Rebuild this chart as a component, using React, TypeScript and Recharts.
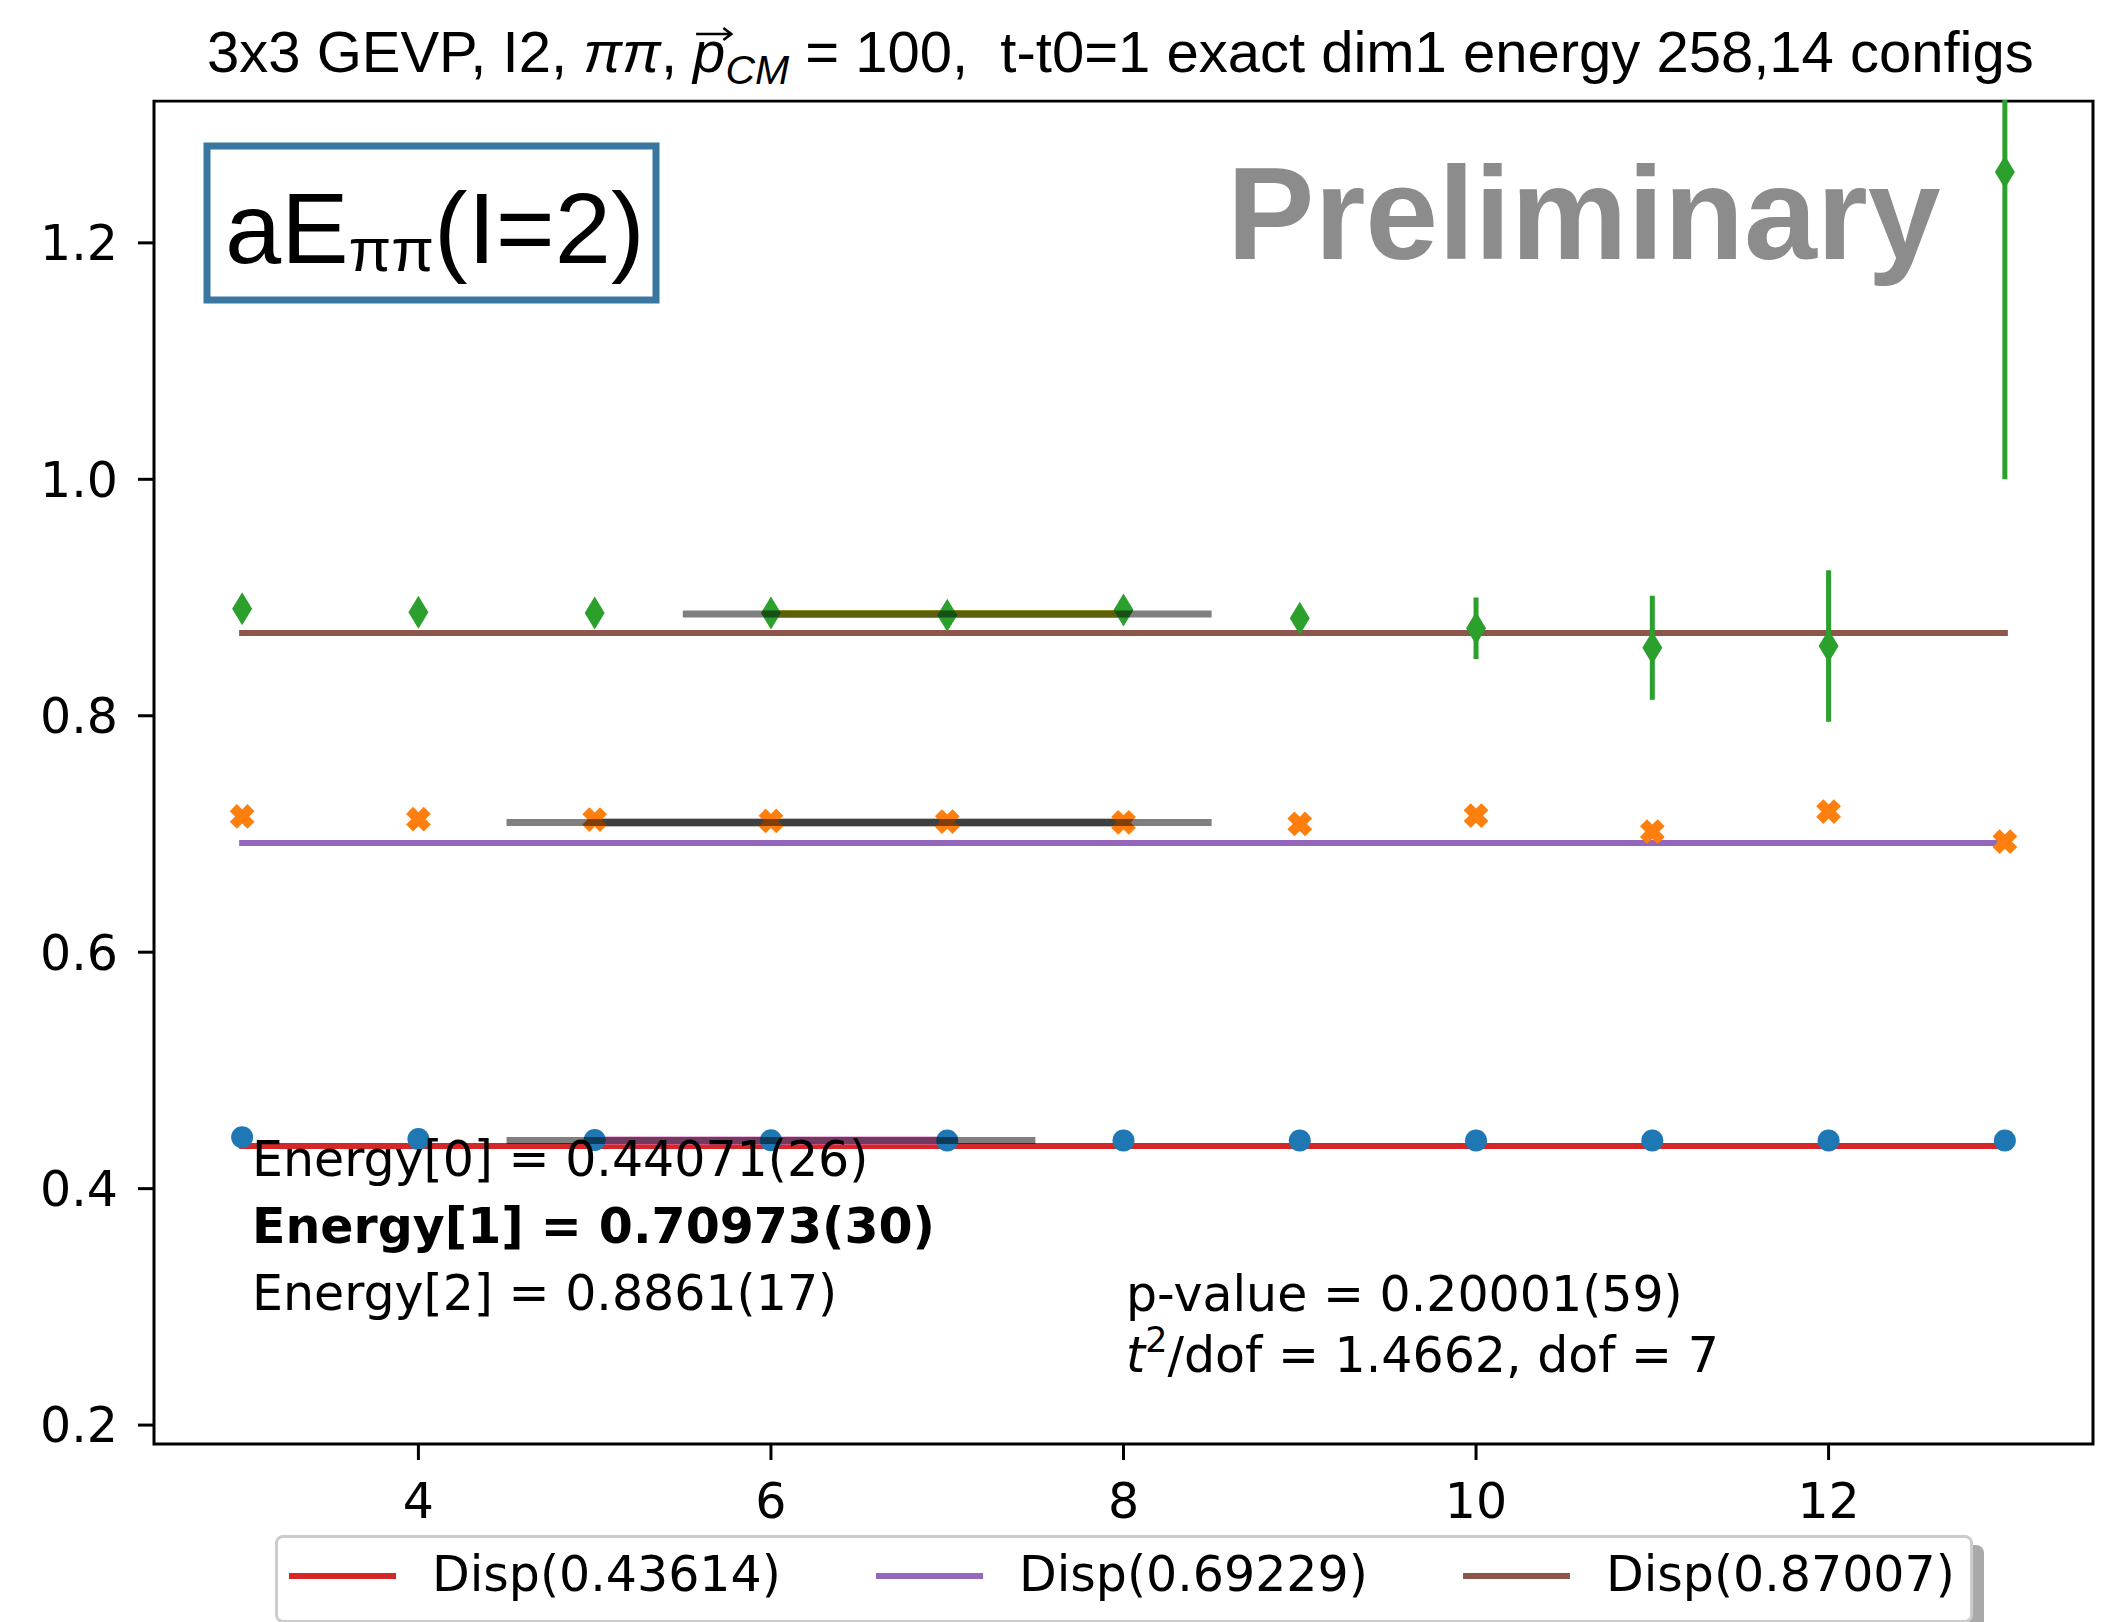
import React, { useLayoutEffect, useRef, useState } from "react";
import {
  ComposedChart,
  XAxis,
  YAxis,
  Line,
  Scatter,
  ErrorBar,
  ReferenceArea,
  Legend,
} from "recharts";

// time slices t
const timeSlices = [3, 4, 5, 6, 7, 8, 9, 10, 11, 12, 13];

// effective energies per GEVP level
const energy0 = [0.4435, 0.442, 0.4412, 0.4409, 0.4408, 0.4408, 0.4407, 0.4407, 0.4407, 0.4407, 0.4407];
const energy0Err = [0.001, 0.001, 0.001, 0.001, 0.001, 0.001, 0.001, 0.001, 0.001, 0.001, 0.001];
const energy1 = [0.7148, 0.7125, 0.7122, 0.711, 0.7105, 0.7098, 0.7085, 0.7155, 0.702, 0.719, 0.6935];
const energy1Err = [0.002, 0.002, 0.002, 0.002, 0.002, 0.003, 0.003, 0.004, 0.005, 0.005, 0.004];
const energy2 = [0.8905, 0.8875, 0.887, 0.887, 0.885, 0.8895, 0.8825, 0.874, 0.8575, 0.859, 1.26];
const energy2Err = [0.004, 0.004, 0.005, 0.01, 0.006, 0.008, 0.009, 0.026, 0.044, 0.064, 0.26];

// fit results
const fitValues = [0.44071, 0.70973, 0.8861];
const fitWindows = [[5, 7], [5, 8], [6, 8]];
const fitBands = [[4.5, 7.5], [4.5, 8.5], [5.5, 8.5]];
const fitColors = ["#e377c2", "#7f7f7f", "#bcbd22"];

// dispersion relation lines
const dispValues = [0.43614, 0.69229, 0.87007];
const dispColors = ["#d62728", "#9467bd", "#8c564b"];

const xTicks = [4, 6, 8, 10, 12];
const yTicks = [0.2, 0.4, 0.6, 0.8, 1.0, 1.2];

const toPoints = (vals: number[], errs: number[]) =>
  timeSlices.map((t, i) => ({ x: t, y: vals[i], err: errs[i] }));

const segment = (x0: number, x1: number, y: number) => [
  { x: x0, y },
  { x: x1, y },
];

const DEJAVU = "DejaVu Sans";
const HELV = "Liberation Sans, Arial, sans-serif";

function CircleMarker(props: any) {
  return <circle cx={props.cx} cy={props.cy} r={11} fill="#1f77b4" />;
}

function XMarker(props: any) {
  const { cx, cy } = props;
  const t = 5;
  const s = 12.5;
  const base = [
    [t, t], [t, s], [-t, s], [-t, t], [-s, t], [-s, -t],
    [-t, -t], [-t, -s], [t, -s], [t, -t], [s, -t], [s, t],
  ];
  const c = Math.SQRT1_2;
  const pts = base
    .map(([a, b]) => `${cx + (a - b) * c},${cy + (a + b) * c}`)
    .join(" ");
  return <polygon points={pts} fill="#ff7f0e" />;
}

function DiamondMarker(props: any) {
  const { cx, cy } = props;
  const pts = `${cx},${cy - 16.5} ${cx + 10},${cy} ${cx},${cy + 16.5} ${cx - 10},${cy}`;
  return <polygon points={pts} fill="#2ca02c" />;
}

function LegendBox(props: any) {
  const items = (props.payload || []).filter((p: any) => p.type !== "none");
  return (
    <div
      style={{
        position: "relative",
        width: 1692,
        height: 82,
        border: "3px solid #cccccc",
        borderRadius: 8,
        background: "#ffffff",
        boxShadow: "11px 10px 0 0 #a9a9a9",
        fontFamily: DEJAVU,
        fontSize: 49,
        color: "#000",
      }}
    >
      {items.map((it: any, i: number) => (
        <div
          key={it.value}
          style={{ position: "absolute", left: 11 + i * 587, top: 0, height: 82, width: 580 }}
        >
          <div
            style={{
              position: "absolute",
              left: 0,
              top: 35,
              width: 107,
              height: 6,
              background: it.color,
            }}
          />
          <div style={{ position: "absolute", left: 143, top: 9, whiteSpace: "nowrap", lineHeight: "56px" }}>
            {it.value}
          </div>
        </div>
      ))}
    </div>
  );
}

export default function App() {
  const titleRef = useRef<SVGTextElement>(null);
  const [arrow, setArrow] = useState({ x0: 691, x1: 721 });

  // place the vector arrow over the italic p of the title
  useLayoutEffect(() => {
    const el = titleRef.current;
    if (!el || !el.textContent) return;
    const idx = el.textContent.indexOf("p");
    try {
      const a = el.getStartPositionOfChar(idx).x;
      const b = el.getEndPositionOfChar(idx).x;
      setArrow({ x0: a + 3, x1: b + 5 });
    } catch (e) {
      // keep default
    }
  }, []);

  const series = [
    { pts: toPoints(energy0, energy0Err), color: "#1f77b4", shape: CircleMarker },
    { pts: toPoints(energy1, energy1Err), color: "#ff7f0e", shape: XMarker },
    { pts: toPoints(energy2, energy2Err), color: "#2ca02c", shape: DiamondMarker },
  ];

  return (
    <div style={{ position: "absolute", left: 0, top: 0, width: 2106, height: 1622, background: "#fff" }}>
      <ComposedChart
        width={2106}
        height={1622}
        margin={{ top: 101, right: 13, bottom: 0, left: 0 }}
      >
        <XAxis
          type="number"
          dataKey="x"
          domain={[2.5, 13.5]}
          ticks={xTicks}
          allowDataOverflow
          height={178}
          axisLine={false}
          tickSize={16}
          tickMargin={23}
          tickLine={{ stroke: "#000", strokeWidth: 3 }}
          tick={{ fill: "#000", fontSize: 49, fontFamily: DEJAVU }}
        />
        <YAxis
          type="number"
          dataKey="y"
          domain={[0.184, 1.32]}
          ticks={yTicks}
          allowDataOverflow
          width={154}
          axisLine={false}
          tickSize={16}
          tickMargin={20}
          tickLine={{ stroke: "#000", strokeWidth: 3 }}
          tickFormatter={(v: number) => v.toFixed(1)}
          tick={{ fill: "#000", fontSize: 49, fontFamily: DEJAVU }}
        />

        {dispValues.map((v, i) => (
          <Line
            key={`disp${i}`}
            data={segment(timeSlices[0], timeSlices[timeSlices.length - 1], v)}
            dataKey="y"
            name={`Disp(${v.toFixed(5)})`}
            stroke={dispColors[i]}
            strokeWidth={6}
            strokeLinecap="square"
            dot={false}
            activeDot={false}
            isAnimationActive={false}
          />
        ))}

        {fitValues.map((v, i) => (
          <Line
            key={`fit${i}`}
            data={segment(fitWindows[i][0], fitWindows[i][1], v)}
            dataKey="y"
            stroke={fitColors[i]}
            strokeWidth={8}
            dot={false}
            activeDot={false}
            legendType="none"
            isAnimationActive={false}
          />
        ))}

        {series.map((s, i) => (
          <Scatter
            key={`sc${i}`}
            data={s.pts}
            dataKey="y"
            fill={s.color}
            shape={s.shape}
            legendType="none"
            isAnimationActive={false}
          >
            <ErrorBar
              dataKey="err"
              direction="y"
              width={0}
              stroke={s.color}
              strokeWidth={5}
              isAnimationActive={false}
            />
          </Scatter>
        ))}

        {fitValues.map((v, i) => (
          <Line
            key={`band${i}`}
            data={segment(fitBands[i][0], fitBands[i][1], v)}
            dataKey="y"
            stroke="#000"
            strokeOpacity={0.5}
            strokeWidth={7}
            dot={false}
            activeDot={false}
            legendType="none"
            isAnimationActive={false}
            {...({ zIndex: 700 } as any)}
          />
        ))}

        <ReferenceArea
          x1={2.5}
          x2={13.5}
          y1={0.184}
          y2={1.32}
          fill="none"
          stroke="#000"
          strokeWidth={3}
          fillOpacity={0}
        />

        <Legend
          layout="horizontal"
          verticalAlign="middle"
          align="center"
          content={LegendBox}
          wrapperStyle={{ position: "absolute", left: 275, top: 1535, width: 1700, height: 90 }}
        />
      </ComposedChart>

      <svg
        width={2106}
        height={1622}
        style={{ position: "absolute", left: 0, top: 0, pointerEvents: "none" }}
      >
        {/* clip anything drawn above the axes */}
        <rect x={0} y={0} width={2106} height={99.5} fill="#fff" />

        {/* title */}
        <text ref={titleRef} x={207} y={72} fontFamily={HELV} fontSize={58} fill="#000" style={{ whiteSpace: "pre" }}>
          <tspan>3x3 GEVP, I2, </tspan>
          <tspan fontStyle="italic">ππ</tspan>
          <tspan>, </tspan>
          <tspan fontStyle="italic">p</tspan>
          <tspan fontStyle="italic" fontSize={41} dy={12}>CM</tspan>
          <tspan dy={-12}>{" = 100,  t-t0=1 exact dim1 energy 258,14 configs"}</tspan>
        </text>
        <path
          d={`M${arrow.x0},34 L${arrow.x1},34 M${arrow.x1 - 7},28 L${arrow.x1 + 1},34 L${arrow.x1 - 7},40`}
          stroke="#000"
          strokeWidth={2.5}
          fill="none"
        />

        {/* label box */}
        <rect x={207} y={146} width={449} height={154} fill="#fff" stroke="#3a77a0" strokeWidth={7} />
        <text x={225} y={263} fontFamily={HELV} fontSize={101} fill="#000">
          <tspan>aE</tspan>
          <tspan fontSize={62} dy={8}>ππ</tspan>
          <tspan dy={-8}>(I=2)</tspan>
        </text>

        <text x={1227} y={259} fontFamily={HELV} fontWeight="bold" fontSize={131} fill="#8c8c8c">
          Preliminary
        </text>

        <g fontFamily={DEJAVU} fontSize={49} fill="#000">
          <text x={252} y={1176}>Energy[0] = 0.44071(26)</text>
          <text x={252} y={1243} fontWeight="bold">Energy[1] = 0.70973(30)</text>
          <text x={252} y={1310}>Energy[2] = 0.8861(17)</text>
          <text x={1126} y={1311}>p-value = 0.20001(59)</text>
          <text x={1126} y={1372}>
            <tspan fontStyle="italic">t</tspan>
            <tspan fontSize={35} dy={-20}>2</tspan>
            <tspan dy={20}>/dof = 1.4662, dof = 7</tspan>
          </text>
        </g>
      </svg>
    </div>
  );
}
